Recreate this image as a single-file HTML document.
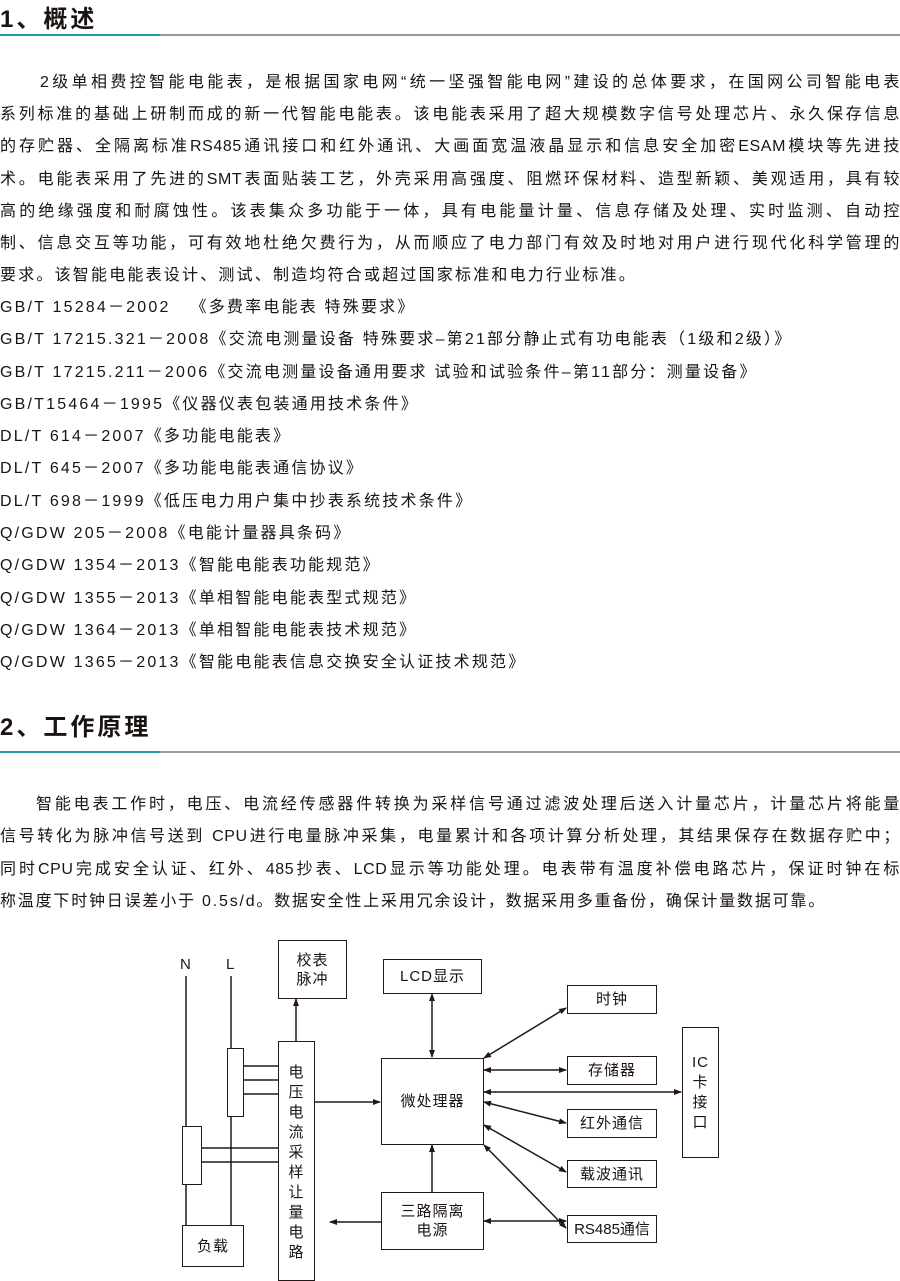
<!DOCTYPE html>
<html><head><meta charset="utf-8"><style>
*{margin:0;padding:0}
body{width:900px;height:1277px;position:relative;background:#fff;font-family:"Liberation Sans","Noto Sans CJK SC",sans-serif;color:#1a1311;overflow:hidden}
.h{position:absolute;left:0;font-size:24px;font-weight:bold;letter-spacing:3px;line-height:30px}
.rule{position:absolute;left:0;width:900px;height:2px;background:#9a9a9a}
.rule i{position:absolute;left:0;top:0;width:160px;height:2px;background:#1f9aa6}
.l{position:absolute;left:0;width:900px;font-size:16px;line-height:20px;white-space:nowrap;letter-spacing:2.2px}
.j{text-align:justify;text-align-last:justify;letter-spacing:0.6px}
.b{position:absolute;border:1.5px solid #231815;box-sizing:border-box;display:flex;align-items:center;justify-content:center;text-align:center;font-size:15px;line-height:19px;background:#fff;letter-spacing:1px}
</style></head><body>
<div class="h" style="top:5px">1、概述</div>
<div class="rule" style="top:34px"><i></i></div>
<div class="l j" style="top:73px;padding-left:40px;width:860px">2级单相费控智能电能表，是根据国家电网“统一坚强智能电网”建设的总体要求，在国网公司智能电表</div>
<div class="l j" style="top:105px">系列标准的基础上研制而成的新一代智能电能表。该电能表采用了超大规模数字信号处理芯片、永久保存信息</div>
<div class="l j" style="top:137px">的存贮器、全隔离标准RS485通讯接口和红外通讯、大画面宽温液晶显示和信息安全加密ESAM模块等先进技</div>
<div class="l j" style="top:170px">术。电能表采用了先进的SMT表面贴装工艺，外壳采用高强度、阻燃环保材料、造型新颖、美观适用，具有较</div>
<div class="l j" style="top:202px">高的绝缘强度和耐腐蚀性。该表集众多功能于一体，具有电能量计量、信息存储及处理、实时监测、自动控</div>
<div class="l j" style="top:234px">制、信息交互等功能，可有效地杜绝欠费行为，从而顺应了电力部门有效及时地对用户进行现代化科学管理的</div>
<div class="l" style="top:266px">要求。该智能电能表设计、测试、制造均符合或超过国家标准和电力行业标准。</div>
<div class="l" style="top:298px">GB/T 15284－2002 &nbsp;&nbsp;《多费率电能表 特殊要求》</div>
<div class="l" style="top:330px">GB/T 17215.321－2008《交流电测量设备 特殊要求–第21部分静止式有功电能表（1级和2级）》</div>
<div class="l" style="top:363px">GB/T 17215.211－2006《交流电测量设备通用要求 试验和试验条件–第11部分：测量设备》</div>
<div class="l" style="top:395px">GB/T15464－1995《仪器仪表包装通用技术条件》</div>
<div class="l" style="top:427px">DL/T 614－2007《多功能电能表》</div>
<div class="l" style="top:459px">DL/T 645－2007《多功能电能表通信协议》</div>
<div class="l" style="top:492px">DL/T 698－1999《低压电力用户集中抄表系统技术条件》</div>
<div class="l" style="top:524px">Q/GDW 205－2008《电能计量器具条码》</div>
<div class="l" style="top:556px">Q/GDW 1354－2013《智能电能表功能规范》</div>
<div class="l" style="top:589px">Q/GDW 1355－2013《单相智能电能表型式规范》</div>
<div class="l" style="top:621px">Q/GDW 1364－2013《单相智能电能表技术规范》</div>
<div class="l" style="top:653px">Q/GDW 1365－2013《智能电能表信息交换安全认证技术规范》</div>
<div class="h" style="top:713px">2、工作原理</div>
<div class="rule" style="top:751px"><i></i></div>
<div class="l j" style="top:795px;padding-left:36px;width:864px">智能电表工作时，电压、电流经传感器件转换为采样信号通过滤波处理后送入计量芯片，计量芯片将能量</div>
<div class="l j" style="top:827px">信号转化为脉冲信号送到 CPU进行电量脉冲采集，电量累计和各项计算分析处理，其结果保存在数据存贮中；</div>
<div class="l j" style="top:860px">同时CPU完成安全认证、红外、485抄表、LCD显示等功能处理。电表带有温度补偿电路芯片，保证时钟在标</div>
<div class="l" style="top:892px;letter-spacing:1.8px">称温度下时钟日误差小于 0.5s/d。数据安全性上采用冗余设计，数据采用多重备份，确保计量数据可靠。</div>

<svg style="position:absolute;left:0;top:0" width="900" height="1277">
<defs><marker id="a" markerWidth="8" markerHeight="8" refX="7" refY="4" orient="auto-start-reverse" markerUnits="userSpaceOnUse"><path d="M0,1 L8,4 L0,7 Z" fill="#231815"/></marker></defs>
<g stroke="#231815" stroke-width="1.5" fill="none">
<line x1="186" y1="976" x2="186" y2="1225"/>
<line x1="231" y1="976" x2="231" y2="1225"/>
<line x1="243" y1="1066" x2="278" y2="1066"/><line x1="243" y1="1080" x2="278" y2="1080"/><line x1="243" y1="1094" x2="278" y2="1094"/>
<line x1="201" y1="1148" x2="278" y2="1148"/><line x1="201" y1="1162" x2="278" y2="1162"/>
<line x1="296" y1="1041" x2="296" y2="999" marker-end="url(#a)"/>
<line x1="314" y1="1102" x2="380" y2="1102" marker-end="url(#a)"/>
<line x1="432" y1="994" x2="432" y2="1057" marker-start="url(#a)" marker-end="url(#a)"/>
<line x1="432" y1="1192" x2="432" y2="1145" marker-end="url(#a)"/>
<line x1="381" y1="1222" x2="330" y2="1222" marker-end="url(#a)"/>
<line x1="484" y1="1058" x2="566" y2="1008" marker-start="url(#a)" marker-end="url(#a)"/>
<line x1="484" y1="1070" x2="566" y2="1070" marker-start="url(#a)" marker-end="url(#a)"/>
<line x1="484" y1="1092" x2="681" y2="1092" marker-start="url(#a)" marker-end="url(#a)"/>
<line x1="484" y1="1102" x2="566" y2="1123" marker-start="url(#a)" marker-end="url(#a)"/>
<line x1="484" y1="1125" x2="566" y2="1172" marker-start="url(#a)" marker-end="url(#a)"/>
<line x1="484" y1="1145" x2="566" y2="1228" marker-start="url(#a)" marker-end="url(#a)"/>
<line x1="484" y1="1221" x2="566" y2="1221" marker-start="url(#a)" marker-end="url(#a)"/>
</g>
<text x="180" y="969" font-size="15" font-family="Liberation Sans" fill="#231815">N</text>
<text x="226" y="969" font-size="15" font-family="Liberation Sans" fill="#231815">L</text>
</svg>
<div class="b" style="left:227px;top:1048px;width:17px;height:69px"></div>
<div class="b" style="left:182px;top:1126px;width:20px;height:59px"></div>
<div class="b" style="left:182px;top:1225px;width:62px;height:42px">负载</div>
<div class="b" style="left:278px;top:1041px;width:37px;height:240px;flex-direction:column;line-height:20px;padding-top:4px">电<br>压<br>电<br>流<br>采<br>样<br>让<br>量<br>电<br>路</div>
<div class="b" style="left:278px;top:940px;width:69px;height:59px">校表<br>脉冲</div>
<div class="b" style="left:383px;top:959px;width:99px;height:35px">LCD显示</div>
<div class="b" style="left:381px;top:1058px;width:103px;height:87px">微处理器</div>
<div class="b" style="left:381px;top:1192px;width:103px;height:58px">三路隔离<br>电源</div>
<div class="b" style="left:567px;top:985px;width:90px;height:29px">时钟</div>
<div class="b" style="left:567px;top:1056px;width:90px;height:29px">存储器</div>
<div class="b" style="left:567px;top:1109px;width:90px;height:29px">红外通信</div>
<div class="b" style="left:567px;top:1160px;width:90px;height:28px">载波通讯</div>
<div class="b" style="left:567px;top:1215px;width:90px;height:28px;letter-spacing:0">RS485通信</div>
<div class="b" style="left:682px;top:1027px;width:37px;height:131px;line-height:20px">IC<br>卡<br>接<br>口</div>
</body></html>
